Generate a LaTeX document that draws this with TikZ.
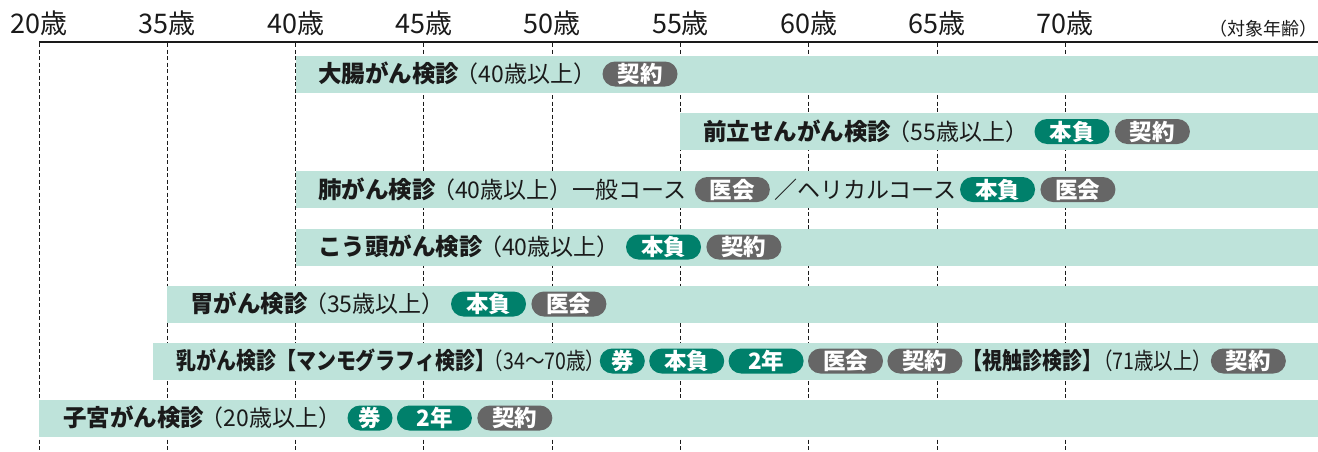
\documentclass[tikz,border=0pt]{standalone}
\usepackage{fontspec}
\setmainfont{Noto Sans CJK JP}
\newfontfamily\condfont[FakeStretch=0.85]{Noto Sans CJK JP}
\usetikzlibrary{positioning}
\definecolor{barcol}{HTML}{BEE3DA}
\definecolor{bgreen}{HTML}{00806B}
\definecolor{bgray}{HTML}{666666}
\definecolor{inkc}{HTML}{1A1A1A}
\begin{document}
\begin{tikzpicture}[x=1pt,y=-1pt,
  ticklbl/.style={font=\fontsize{27}{27}\selectfont, text=inkc, inner sep=0pt, text height=23.8pt, text depth=3.2pt},
  grid/.style={draw=inkc, line width=0.9pt, dash pattern=on 4pt off 2.5pt},
  bar/.style={fill=barcol},
  ttl/.style={font=\fontsize{23.5}{23.5}\selectfont\bfseries, inner sep=0pt, text height=20.7pt, text depth=2.8pt, anchor=west, text=inkc},
  txt/.style={font=\fontsize{23}{23}\selectfont, inner sep=0pt, text height=20.2pt, text depth=2.8pt, anchor=west, text=inkc},
  cttl/.style={ttl, font=\condfont\fontsize{23.5}{23.5}\selectfont\bfseries},
  ctxt/.style={txt, font=\condfont\fontsize{23}{23}\selectfont},
  badge/.style={font=\fontsize{22.5}{22.5}\selectfont\bfseries, text=white, inner xsep=5pt, inner ysep=0pt, text height=19.8pt, text depth=2.7pt, minimum height=25pt, minimum width=75pt, rounded corners=12.5pt, anchor=west},
  gb/.style={badge, fill=bgreen},
  yb/.style={badge, fill=bgray},
  one/.style={minimum width=45pt}
]
\useasboundingbox (0,0) rectangle (1318,451);
% grid lines and tick labels
\foreach \a [count=\k from 0] in {20,35,40,45,50,55,60,65,70}{
  \pgfmathsetmacro{\xx}{39+128.3*\k}
  \draw[grid] (\xx,43) -- (\xx,451);
  \node[ticklbl] (tick\k) at (\xx,23) {\a 歳};
}
\draw[line width=2pt, draw=inkc] (39,42) -- (1318,42);
\node[font=\fontsize{18}{18}\selectfont, text=inkc, inner sep=0pt, anchor=east] (unit) at (1318,29) {（対象年齢）};
% bars
\path[bar] (296,55.5) rectangle (1318,92.5);
\path[bar] (680,113) rectangle (1318,150);
\path[bar] (296,171) rectangle (1318,208);
\path[bar] (296,228.5) rectangle (1318,265.5);
\path[bar] (167,285.5) rectangle (1318,322.5);
\path[bar] (153,342.5) rectangle (1318,379.5);
\path[bar] (39,399.5) rectangle (1318,436.5);
% row 1
\node[ttl] (r1t) at (318,74) {大腸がん検診};
\node[txt, right=-4pt of r1t] (r1p) {（40歳以上）};
\node[yb, right=6pt of r1p] (r1b1) {契約};
% row 2
\node[ttl] (r2t) at (703,131.5) {前立せんがん検診};
\node[txt, right=-4pt of r2t] (r2p) {（55歳以上）};
\node[gb, right=6pt of r2p] (r2b1) {本負};
\node[yb, right=5pt of r2b1] (r2b2) {契約};
% row 3
\node[ttl] (r3t) at (318,189.5) {肺がん検診};
\node[txt, right=-4pt of r3t] (r3p) {（40歳以上）一般コース};
\node[yb, right=8pt of r3p] (r3b1) {医会};
\node[txt, right=4pt of r3b1] (r3q) {／ヘリカルコース};
\node[gb, right=3pt of r3q] (r3b2) {本負};
\node[yb, right=5pt of r3b2] (r3b3) {医会};
% row 4
\node[ttl] (r4t) at (318,247) {こう頭がん検診};
\node[txt, right=-4pt of r4t] (r4p) {（40歳以上）};
\node[gb, right=6pt of r4p] (r4b1) {本負};
\node[yb, right=5pt of r4b1] (r4b2) {契約};
% row 5
\node[ttl] (r5t) at (190,304) {胃がん検診};
\node[txt, right=-4pt of r5t] (r5p) {（35歳以上）};
\node[gb, right=6pt of r5p] (r5b1) {本負};
\node[yb, right=5pt of r5b1] (r5b2) {医会};
% row 6
\node[cttl] (r6t) at (176,361) {乳がん検診【マンモグラフィ検診】};
\node[ctxt, right=-12pt of r6t] (r6p) {（34〜70歳）};
\node[gb, one, right=-6pt of r6p] (r6b1) {券};
\node[gb, right=4pt of r6b1] (r6b2) {本負};
\node[gb, right=4pt of r6b2] (r6b3) {2年};
\node[yb, right=4pt of r6b3] (r6b4) {医会};
\node[yb, right=4pt of r6b4] (r6b5) {契約};
\node[cttl, right=0pt of r6b5] (r6u) {【視触診検診】};
\node[ctxt, right=-10pt of r6u] (r6q) {（71歳以上）};
\node[yb, right=-2pt of r6q] (r6b6) {契約};
% row 7
\node[ttl] (r7t) at (63,418) {子宮がん検診};
\node[txt, right=-4pt of r7t] (r7p) {（20歳以上）};
\node[gb, one, right=6pt of r7p] (r7b1) {券};
\node[gb, right=4pt of r7b1] (r7b2) {2年};
\node[yb, right=5pt of r7b2] (r7b3) {契約};
\end{tikzpicture}
\end{document}
